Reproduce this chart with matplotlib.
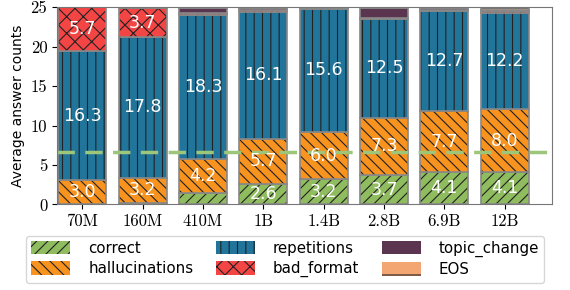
import numpy as np
import matplotlib.pyplot as plt

models = ['70M', '160M', '410M', '1B', '1.4B', '2.8B', '6.9B', '12B']
correct = [0.1, 0.2, 1.5, 2.6, 3.2, 3.7, 4.1, 4.1]
hallucinations = [3.0, 3.2, 4.2, 5.7, 6.0, 7.3, 7.7, 8.0]
repetitions = [16.3, 17.8, 18.3, 16.1, 15.6, 12.5, 12.7, 12.2]
bad_format = [5.7, 3.7, 0.3, 0.2, 0.1, 0.1, 0.2, 0.2]
topic_change = [0.0, 0.1, 0.6, 0.3, 0.1, 1.3, 0.2, 0.2]
eos = [0.0, 0.0, 0.1, 0.1, 0.0, 0.0, 0.1, 0.2]
baseline = 6.6

series = [
    ('correct', correct, '#8fbc5f', '///'),
    ('hallucinations', hallucinations, '#f7931e', '\\\\\\'),
    ('repetitions', repetitions, '#21759b', '||'),
    ('bad_format', bad_format, '#f44545', 'xx'),
    ('topic_change', topic_change, '#5b3550', ''),
    ('EOS', eos, '#f4a672', '-'),
]

plt.rcParams['hatch.linewidth'] = 0.8
fig, ax = plt.subplots(figsize=(5.7, 2.9), dpi=100)
x = np.arange(len(models))
bottom = np.zeros(len(models))
for name, vals, color, hatch in series:
    vals = np.array(vals)
    ax.bar(x, vals, 0.8, bottom=bottom, color=color, hatch=hatch,
           edgecolor='#222222', linewidth=0, label=name)
    ax.bar(x, vals, 0.8, bottom=bottom, fill=False, edgecolor='#888888', linewidth=1.2)
    for xi, v, b in zip(x, vals, bottom):
        if v >= 2:
            ax.text(xi, b + v / 2, f'{v:.1f}', ha='center', va='center',
                    color='white', fontsize=12.5)
    bottom += vals

ax.axhline(baseline, color='#9dc67a', linestyle='--', linewidth=2.5, dashes=(5, 3))
ax.set_ylim(0, 25)
ax.set_xlim(-0.42, 7.78)
ax.set_xticks(x)
ax.set_xticklabels(models, fontfamily='cmr10', fontsize=12)
ax.set_yticks([0, 5, 10, 15, 20, 25])
ax.set_yticklabels(['0', '5', '10', '15', '20', '25'], fontfamily='cmr10', fontsize=12)
ax.set_ylabel('Average answer counts', fontsize=10)
for s in ax.spines.values():
    s.set_color('#777777')

ax.legend(loc='upper left', bbox_to_anchor=(-0.078, -0.12), ncol=3, fontsize=10.8,
          handlelength=2.6, handleheight=1.0, columnspacing=1.5, labelspacing=0.35,
          borderpad=0.35, handletextpad=1.2)
fig.subplots_adjust(left=0.1, right=0.968, top=0.975, bottom=0.295)
fig.savefig('out.png', dpi=100)
